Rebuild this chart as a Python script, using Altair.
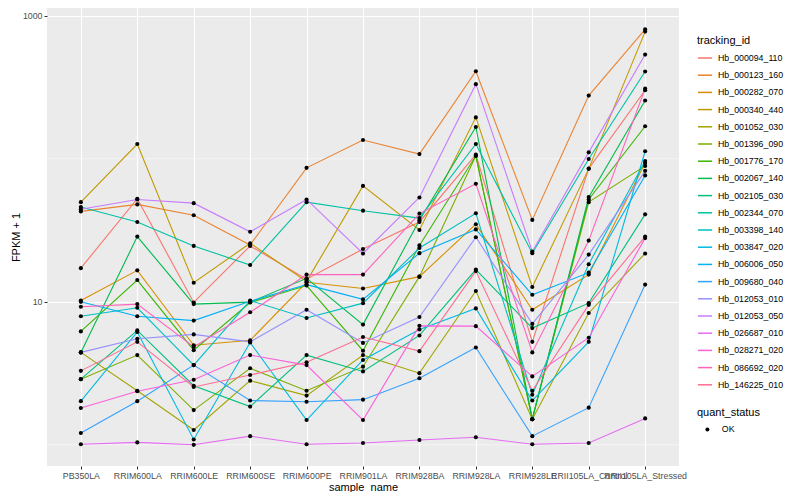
import altair as alt
import pandas as pd

samples = ["PB350LA", "RRIM600LA", "RRIM600LE", "RRIM600SE", "RRIM600PE",
           "RRIM901LA", "RRIM928BA", "RRIM928LA", "RRIM928LE",
           "RRII105LA_Control", "RRII105LA_Stressed"]

tracking_ids = ["Hb_000094_110", "Hb_000123_160", "Hb_000282_070", "Hb_000340_440",
                "Hb_001052_030", "Hb_001396_090", "Hb_001776_170", "Hb_002067_140",
                "Hb_002105_030", "Hb_002344_070", "Hb_003398_140", "Hb_003847_020",
                "Hb_006006_050", "Hb_009680_040", "Hb_012053_010", "Hb_012053_050",
                "Hb_026687_010", "Hb_028271_020", "Hb_086692_020", "Hb_146225_010"]

hb_000094_110 = [17.2, 52.6, 9.9, 24.6, 14.4, 23.4, 36.2, 107, 5.25, 85.5, 302]
hb_000123_160 = [42.9, 48.0, 40.3, 25.0, 86.5, 135.5, 108, 410, 37.4, 277, 805]
hb_000282_070 = [10.2, 16.6, 4.97, 5.38, 13.7, 12.4, 15.0, 34.9, 8.81, 15.5, 93.5]
hb_000340_440 = [49.8, 127, 13.6, 25.7, 13.9, 64.7, 31.8, 195, 12.7, 85.1, 776]
hb_001052_030 = [4.43, 2.39, 1.27, 2.81, 2.21, 4.24, 3.17, 11.9, 1.51, 8.36, 21.8]
hb_001396_090 = [2.88, 4.24, 1.75, 3.43, 2.39, 3.52, 15.0, 105, 1.51, 49.8, 89.3]
hb_001776_170 = [6.21, 14.2, 4.59, 9.9, 13.0, 4.55, 24.8, 105, 1.51, 52.0, 169]
hb_002067_140 = [4.43, 28.6, 9.64, 9.95, 14.6, 6.93, 37.2, 167, 1.51, 54.0, 256]
hb_002105_030 = [2.88, 6.31, 2.59, 1.85, 4.24, 3.26, 5.82, 16.8, 6.55, 9.79, 40.9]
hb_002344_070 = [46.0, 36.2, 24.6, 18.1, 49.8, 43.4, 38.5, 127, 21.9, 99.8, 408]
hb_003398_140 = [7.93, 9.09, 3.61, 10.2, 7.71, 9.79, 23.8, 41.6, 2.24, 18.3, 96.6]
hb_003847_020 = [2.02, 6.15, 1.09, 5.19, 1.49, 3.92, 6.41, 9.00, 2.04, 5.25, 113]
hb_006006_050 = [10.0, 7.93, 7.39, 10.1, 13.2, 10.4, 21.9, 32.1, 11.2, 16.0, 76.6]
hb_009680_040 = [1.21, 2.02, 3.61, 2.04, 2.00, 2.07, 2.92, 4.79, 1.15, 1.82, 13.2]
hb_012053_010 = [4.43, 5.52, 5.92, 5.25, 8.81, 5.16, 7.83, 28.3, 7.01, 21.4, 82.4]
hb_012053_050 = [44.4, 52.0, 49.0, 30.9, 52.0, 21.8, 53.7, 333, 22.5, 111, 536]
hb_026687_010 = [1.01, 1.04, 1.0, 1.15, 1.01, 1.03, 1.08, 1.13, 1.01, 1.03, 1.53]
hb_028271_020 = [1.81, 2.37, 2.85, 4.24, 3.61, 1.49, 6.79, 6.76, 3.01, 5.61, 27.9]
hb_086692_020 = [9.23, 9.64, 4.84, 8.45, 15.5, 15.5, 41.4, 67.0, 4.43, 26.8, 310]
hb_146225_010 = [3.29, 5.25, 2.54, 3.08, 3.78, 5.68, 4.52, 16.4, 2.39, 9.53, 28.6]

series_values = [hb_000094_110, hb_000123_160, hb_000282_070, hb_000340_440,
                 hb_001052_030, hb_001396_090, hb_001776_170, hb_002067_140,
                 hb_002105_030, hb_002344_070, hb_003398_140, hb_003847_020,
                 hb_006006_050, hb_009680_040, hb_012053_010, hb_012053_050,
                 hb_026687_010, hb_028271_020, hb_086692_020, hb_146225_010]

palette = ["#F8766D", "#EA8331", "#D89000", "#C09B00", "#A3A500", "#7CAE00",
           "#39B600", "#00BB4E", "#00BF7D", "#00C1A3", "#00BFC4", "#00BAE0",
           "#00B0F6", "#35A2FF", "#9590FF", "#C77CFF", "#E76BF3", "#FA62DB",
           "#FF62BC", "#FF6C91"]

major_breaks = [10, 1000]
minor_breaks = [1, 100]
y_domain = [0.711, 1135]

rows = []
for tid, vals in zip(tracking_ids, series_values):
    for s, v in zip(samples, vals):
        rows.append({"tracking_id": tid, "sample_name": s, "fpkm1": v, "quant_status": "OK"})
df = pd.DataFrame(rows)

font = "Liberation Sans"

y_scale = alt.Scale(type="log", domain=y_domain, nice=False)

x_enc = alt.X("sample_name:N", sort=samples,
              scale=alt.Scale(type="point", padding=0.6),
              axis=alt.Axis(title="sample_name", labelAngle=0, grid=True,
                            gridColor="white", gridWidth=1.1, domain=False,
                            tickColor="#333333", tickSize=3, tickWidth=1,
                            labelColor="#4D4D4D", labelFontSize=8.8, labelPadding=2,
                            labelFont=font, titleFont=font, titleFontSize=11,
                            titleFontWeight="normal", titleColor="black",
                            titlePadding=2))

y_axis = alt.Axis(title="FPKM + 1", values=major_breaks, format="d",
                  grid=True, gridColor="white", gridWidth=1.1,
                  domain=False, tickColor="#333333", tickSize=3,
                  tickWidth=1, labelColor="#4D4D4D", labelFontSize=8.8,
                  labelPadding=2, labelFont=font, titleFont=font,
                  titleFontSize=11, titleFontWeight="normal",
                  titleColor="black", titlePadding=1)

y_enc = alt.Y("fpkm1:Q", scale=y_scale, axis=y_axis)

minor = alt.Chart(pd.DataFrame({"fpkm1": minor_breaks})).mark_rule(
    color="white", strokeWidth=0.55
).encode(y=alt.Y("fpkm1:Q", scale=y_scale, axis=y_axis))

base = alt.Chart(df)

lines = base.mark_line(strokeWidth=1.1).encode(
    x=x_enc, y=y_enc,
    color=alt.Color("tracking_id:N",
                    scale=alt.Scale(domain=tracking_ids, range=palette),
                    legend=alt.Legend(title="tracking_id", orient="none",
                                      legendX=650, legendY=27,
                                      titleFont=font, titleFontSize=11,
                                      titleFontWeight="normal", titleColor="black",
                                      titlePadding=4,
                                      labelFont=font, labelFontSize=8.8,
                                      labelColor="black", labelOffset=5,
                                      symbolType="stroke", symbolSize=200,
                                      symbolStrokeWidth=1.5, rowPadding=4.2)),
    detail="tracking_id:N",
)

points = base.mark_point(filled=True, size=17, opacity=1).encode(
    x=x_enc, y=y_enc,
    shape=alt.Shape("quant_status:N",
                    scale=alt.Scale(domain=["OK"], range=["circle"]),
                    legend=alt.Legend(title="quant_status", orient="none",
                                      legendX=650, legendY=399,
                                      titleFont=font, titleFontSize=11,
                                      titleFontWeight="normal", titleColor="black",
                                      titlePadding=7,
                                      labelFont=font, labelFontSize=8.8,
                                      labelColor="black", labelOffset=10,
                                      symbolSize=16, symbolOffset=6,
                                      symbolFillColor="black",
                                      symbolStrokeColor="black")),
    color=alt.value("black"),
)

chart = alt.layer(minor, lines, points).properties(
    width=632, height=458,
    autosize=alt.AutoSizeParams(type="none"),
    padding={"left": 39, "top": 0, "right": 111, "bottom": 26},
).configure(font=font).configure_view(fill="#EBEBEB", strokeWidth=0)

chart.save("out.html", embed_options={"renderer": "svg", "actions": False})
